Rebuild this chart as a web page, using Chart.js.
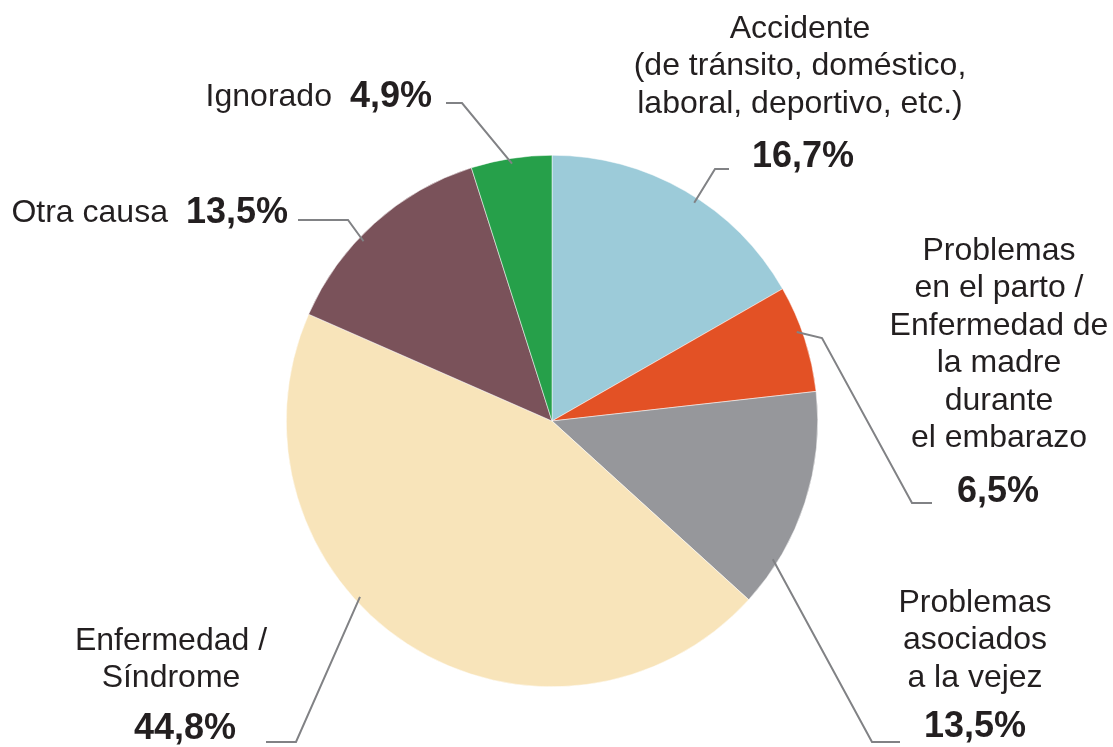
<!DOCTYPE html>
<html>
<head>
<meta charset="utf-8">
<script src="https://cdn.jsdelivr.net/npm/chart.js@4.4.1/dist/chart.umd.min.js"></script>
<style>
  body { margin: 0; background: #ffffff; }
  #wrap { width: 1113px; height: 747px; }
</style>
</head>
<body>
<div id="wrap"><canvas id="grafico" width="1113" height="747"></canvas></div>
<script>
// datos del gráfico
const categorias = [
  "Accidente",
  "Problemas en el parto / Enfermedad de la madre durante el embarazo",
  "Problemas asociados a la vejez",
  "Enfermedad / Síndrome",
  "Otra causa",
  "Ignorado"
];
const valores = [16.7, 6.5, 13.5, 44.8, 13.5, 4.9];
const colores = ["#9ccbd9", "#e35125", "#96979b", "#f8e4ba", "#7a525a", "#26a04a"];

// textos de las etiquetas (líneas normales + porcentaje en negrita)
const textosEtiquetas = [
  ["Accidente", "(de tránsito, doméstico,", "laboral, deportivo, etc.)"],
  ["Problemas", "en el parto /", "Enfermedad de", "la madre", "durante", "el embarazo"],
  ["Problemas", "asociados", "a la vejez"],
  ["Enfermedad /", "Síndrome"],
  ["Otra causa"],
  ["Ignorado"]
];
const porcentajes = ["16,7%", "6,5%", "13,5%", "44,8%", "13,5%", "4,9%"];

// colocación de cada etiqueta y su línea guía
// pos: posición dentro del sector (0-1) donde nace la línea
const disposicion = [
  { pos: 0.55, codo: [715, 169], fin: [729, 169], x: 800, y: 29, pctY: 157, pctX: 803 },
  { pos: 0.42, codo: [822, 338], codo2: [912, 503], fin2: [932, 503], x: 999, y: 251, pctY: 492, pctX: 998 },
  { pos: 0.79, codo: [872, 742], fin: [900, 742], x: 975, y: 603, pctY: 727, pctX: 975 },
  { pos: 0.59, codo: [296, 742], fin: [266, 742], x: 171, y: 641, pctY: 729, pctX: 185 },
  { pos: 0.41, codo: [348, 220], fin: [298, 220], x: 288, y: 213, enLinea: true },
  { pos: 0.5, codo: [462, 103], fin: [446, 103], x: 432, y: 97, enLinea: true }
];

const FUENTE = "'Liberation Sans', Arial, Helvetica, sans-serif";
const TAM = 32;
const TAM_PCT = 36;
const INTERLINEA = 37.5;
const COLOR_TEXTO = "#231f20";
const COLOR_LINEA = "#818285";

const etiquetasPlugin = {
  id: "etiquetas",
  afterDraw(chart) {
    const ctx = chart.ctx;
    const arcos = chart.getDatasetMeta(0).data;
    ctx.save();
    arcos.forEach((arco, i) => {
      const d = disposicion[i];
      const p = arco.getProps(["x", "y", "startAngle", "endAngle", "outerRadius"], true);
      const ang = p.startAngle + (p.endAngle - p.startAngle) * d.pos;
      const r = p.outerRadius * 0.98;
      const ax = p.x + Math.cos(ang) * r;
      const ay = p.y + Math.sin(ang) * r;

      // línea guía
      ctx.strokeStyle = COLOR_LINEA;
      ctx.lineWidth = 2;
      ctx.beginPath();
      ctx.moveTo(ax, ay);
      if (d.codo2) {
        ctx.lineTo(d.codo[0], d.codo[1]);
        ctx.lineTo(d.codo2[0], d.codo2[1]);
        ctx.lineTo(d.fin2[0], d.fin2[1]);
      } else {
        ctx.lineTo(d.codo[0], d.codo[1]);
        ctx.lineTo(d.fin[0], d.fin[1]);
      }
      ctx.stroke();

      // texto
      ctx.fillStyle = COLOR_TEXTO;
      ctx.textBaseline = "middle";
      if (d.enLinea) {
        ctx.font = "bold " + TAM_PCT + "px " + FUENTE;
        const wPct = ctx.measureText(porcentajes[i]).width;
        ctx.textAlign = "right";
        ctx.fillText(porcentajes[i], d.x, d.y);
        ctx.font = TAM + "px " + FUENTE;
        ctx.fillText(textosEtiquetas[i][0], d.x - wPct - 18, d.y);
      } else {
        ctx.textAlign = "center";
        ctx.font = TAM + "px " + FUENTE;
        textosEtiquetas[i].forEach((t, k) => {
          ctx.fillText(t, d.x, d.y + k * INTERLINEA);
        });
        ctx.font = "bold " + TAM_PCT + "px " + FUENTE;
        ctx.fillText(porcentajes[i], d.pctX, d.pctY);
      }
    });
    ctx.restore();
  }
};

new Chart(document.getElementById("grafico"), {
  type: "pie",
  data: {
    labels: categorias,
    datasets: [{
      data: valores,
      backgroundColor: colores,
      borderColor: "#ffffff",
      borderWidth: 0.5
    }]
  },
  options: {
    responsive: false,
    animation: false,
    layout: { padding: { left: 286, right: 295, top: 155, bottom: 60 } },
    plugins: {
      legend: { display: false },
      tooltip: { enabled: false }
    }
  },
  plugins: [etiquetasPlugin]
});
</script>
</body>
</html>
